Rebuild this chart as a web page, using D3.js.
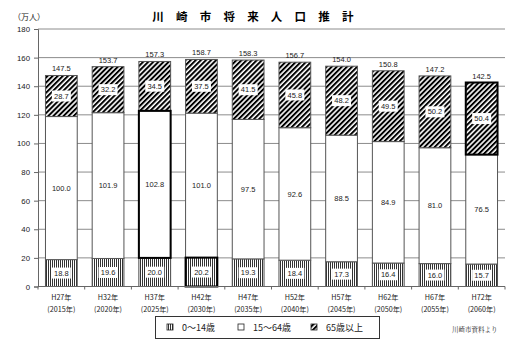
<!DOCTYPE html>
<html>
<head>
<meta charset="utf-8">
<script src="https://cdn.jsdelivr.net/npm/d3@7"></script>
<style>
  body { margin: 0; background: #fff; }
  svg { display: block; }
</style>
</head>
<body>
<svg id="chart" width="528" height="343"></svg>
<script>
// data
const years = ["H27年", "H32年", "H37年", "H42年", "H47年", "H52年", "H57年", "H62年", "H67年", "H72年"];
const westernYears = ["(2015年)", "(2020年)", "(2025年)", "(2030年)", "(2035年)", "(2040年)", "(2045年)", "(2050年)", "(2055年)", "(2060年)"];
const young = [18.8, 19.6, 20.0, 20.2, 19.3, 18.4, 17.3, 16.4, 16.0, 15.7];
const working = [100.0, 101.9, 102.8, 101.0, 97.5, 92.6, 88.5, 84.9, 81.0, 76.5];
const elderly = [28.7, 32.2, 34.5, 37.5, 41.5, 45.8, 48.2, 49.5, 50.2, 50.4];
const totals = [147.5, 153.7, 157.3, 158.7, 158.3, 156.7, 154.0, 150.8, 147.2, 142.5];
const yTicks = [0, 20, 40, 60, 80, 100, 120, 140, 160, 180];
const seriesNames = ["0〜14歳", "15〜64歳", "65歳以上"];
// segments drawn with a thick border: [bar index, series index]
const highlights = [[2, 1], [3, 0], [9, 2]];

const svg = d3.select("#chart");
const plotL = 38, plotR = 505, plotT = 29, plotB = 286.5;
const jp = "'Noto Sans CJK JP', sans-serif";
const num = "'Liberation Sans', Arial, sans-serif";

const defs = svg.append("defs");
// vertical stripes for 0-14
const pv = defs.append("pattern").attr("id", "vstripe")
  .attr("patternUnits", "userSpaceOnUse").attr("width", 2).attr("height", 4);
pv.append("rect").attr("width", 2).attr("height", 4).attr("fill", "#fff");
pv.append("rect").attr("width", 1).attr("height", 4).attr("fill", "#333");
// diagonal stripes for 65+
const pd = defs.append("pattern").attr("id", "dstripe")
  .attr("patternUnits", "userSpaceOnUse").attr("width", 3.6).attr("height", 4)
  .attr("patternTransform", "rotate(45)");
pd.append("rect").attr("width", 3.6).attr("height", 4).attr("fill", "#fff");
pd.append("rect").attr("width", 2).attr("height", 4).attr("fill", "#000");

const fills = ["url(#vstripe)", "#fff", "url(#dstripe)"];

const x = d3.scaleBand().domain(years).range([plotL, plotR]).paddingInner(0.32).paddingOuter(0.16);
const y = d3.scaleLinear().domain([0, 180]).range([plotB, plotT]);

// title
svg.append("text").attr("x", 259).attr("y", 21).attr("text-anchor", "middle")
  .attr("font-family", jp).attr("font-weight", "bold").attr("font-size", 11.5)
  .attr("letter-spacing", 12.2).text("川崎市将来人口推計");
svg.append("text").attr("x", 13).attr("y", 20).attr("font-family", jp)
  .attr("font-size", 8).attr("fill", "#222").text("（万人）");

// grid
svg.append("g").selectAll("line").data(yTicks.filter(d => d > 0)).join("line")
  .attr("x1", plotL).attr("x2", plotR)
  .attr("y1", d => y(d)).attr("y2", d => y(d))
  .attr("stroke", "#8c8c8c").attr("stroke-width", 1);

// y axis
const yAxis = svg.append("g").attr("transform", `translate(${plotL},0)`)
  .call(d3.axisLeft(y).tickValues(yTicks).tickSize(4).tickPadding(4));
yAxis.select(".domain").attr("stroke", "#666");
yAxis.selectAll("line").attr("stroke", "#666");
yAxis.selectAll("text").attr("font-family", num).attr("font-size", 7.8).attr("fill", "#222");

// stacked bars
const stackData = years.map((yr, i) => ({ year: yr, s0: young[i], s1: working[i], s2: elderly[i] }));
const stacked = d3.stack().keys(["s0", "s1", "s2"])(stackData);

const barG = svg.append("g");
stacked.forEach((layer, si) => {
  const g = barG.append("g");
  g.selectAll("rect").data(layer).join("rect")
    .attr("x", d => x(d.data.year))
    .attr("width", x.bandwidth())
    .attr("y", d => y(d[1]))
    .attr("height", d => y(d[0]) - y(d[1]))
    .attr("fill", fills[si])
    .attr("stroke", "#555").attr("stroke-width", 1);
});

// label boxes for the patterned segments, then text
stacked.forEach((layer, si) => {
  layer.forEach((d, i) => {
    const cx = x(d.data.year) + x.bandwidth() / 2;
    const cy = (y(d[0]) + y(d[1])) / 2;
    const label = (d[1] - d[0]).toFixed(1);
    if (si !== 1) {
      svg.append("rect").attr("x", cx - 9.5).attr("y", cy - 5.5)
        .attr("width", 19).attr("height", 11).attr("fill", "#fff");
    }
    svg.append("text").attr("x", cx).attr("y", cy).attr("dy", "0.35em")
      .attr("text-anchor", "middle").attr("font-family", num)
      .attr("font-size", 7.5).attr("fill", "#222").text(label);
  });
});

// highlighted segments
highlights.forEach(([bi, si]) => {
  const d = stacked[si][bi];
  svg.append("rect")
    .attr("x", x(d.data.year)).attr("width", x.bandwidth())
    .attr("y", y(d[1])).attr("height", y(d[0]) - y(d[1]))
    .attr("fill", "none").attr("stroke", "#000").attr("stroke-width", 2);
});

// totals
svg.append("g").selectAll("text").data(totals).join("text")
  .attr("x", (d, i) => x(years[i]) + x.bandwidth() / 2)
  .attr("y", d => y(d) - 4)
  .attr("text-anchor", "middle").attr("font-family", num)
  .attr("font-size", 7.5).attr("fill", "#222").text(d => d.toFixed(1));

// x axis
svg.append("line").attr("x1", plotL).attr("x2", plotR).attr("y1", plotB).attr("y2", plotB)
  .attr("stroke", "#666");
const bounds = years.map(yr => x(yr) - x.step() * x.paddingInner() / 2).concat([plotR]);
svg.append("g").selectAll("line").data(bounds).join("line")
  .attr("x1", d => d).attr("x2", d => d).attr("y1", plotB).attr("y2", plotB + 3)
  .attr("stroke", "#666");
const xl = svg.append("g").selectAll("g").data(years).join("g")
  .attr("transform", d => `translate(${x(d) + x.bandwidth() / 2},0)`);
xl.append("text").attr("y", 300).attr("text-anchor", "middle")
  .attr("font-family", jp).attr("font-size", 7.2).attr("fill", "#222").text(d => d);
xl.append("text").attr("y", 312).attr("text-anchor", "middle")
  .attr("font-family", jp).attr("font-size", 7.2).attr("fill", "#222")
  .text((d, i) => westernYears[i]);

// legend
const lg = svg.append("g");
lg.append("rect").attr("x", 155.5).attr("y", 316.5).attr("width", 224).attr("height", 22)
  .attr("fill", "#fff").attr("stroke", "#333");
const lx = [167, 238, 311];
seriesNames.forEach((name, i) => {
  lg.append("rect").attr("x", lx[i]).attr("y", 324).attr("width", 6).attr("height", 6)
    .attr("fill", fills[i]).attr("stroke", "#222").attr("stroke-width", 0.8);
  lg.append("text").attr("x", lx[i] + 15).attr("y", 330.5)
    .attr("font-family", jp).attr("font-size", 9).attr("fill", "#222").text(name);
});

svg.append("text").attr("x", 452).attr("y", 332).attr("font-family", "'Noto Serif CJK JP', " + jp)
  .attr("font-size", 6.5).attr("fill", "#222").text("川崎市資料より");
</script>
</body>
</html>
